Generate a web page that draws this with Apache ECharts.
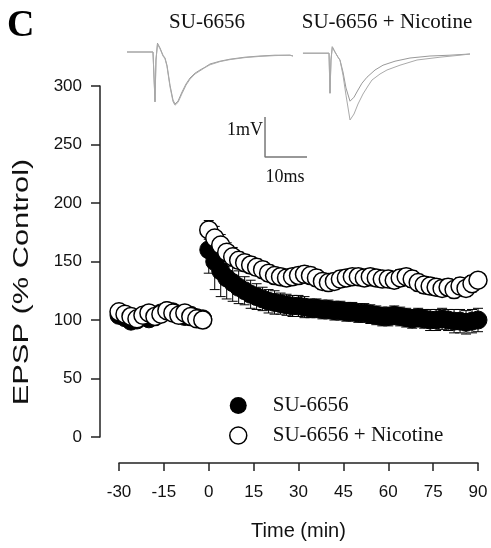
<!DOCTYPE html>
<html>
<head>
<meta charset="utf-8">
<script src="https://cdn.jsdelivr.net/npm/echarts@6/dist/echarts.min.js"></script>
<style>html,body{margin:0;padding:0;background:#fff}#c{width:491px;height:548px}</style>
</head>
<body>
<div id="c"></div>
<script>
// ---- main data (Time in min, EPSP in % control) ----
var timesBase = [-30,-28,-26,-24,-22,-20,-18,-16,-14,-12,-10,-8,-6,-4,-2];
var timesPost = [0,2,4,6,8,10,12,14,16,18,20,22,24,26,28,30,32,34,36,38,40,42,44,46,48,50,52,54,56,58,60,62,64,66,68,70,72,74,76,78,80,82,84,86,88,90];

var su6656Base = [104,102,99,100,103,101,104,106,108,107,105,103,104,102,101];
var su6656BaseErr = [5,5,5,5,5,5,5,5,5,5,5,5,5,5,5];
var su6656Post = [160,150,142,136,132,128,125,122,120,118,116,115,114,113,112,112,111,110,110,109,109,108,108,107,107,106,106,105,104,103,103,104,103,102,101,102,101,100,100,101,100,99,99,98,99,100];
var su6656PostErr = [20,24,22,18,16,14,12,12,11,10,10,10,9,9,9,9,9,8,8,8,8,8,8,8,8,8,8,8,8,8,8,8,8,8,8,8,8,9,9,9,9,10,10,10,10,10];

var nicBase = [107,105,103,101,104,106,103,105,108,106,104,106,103,101,100];
var nicBaseErr = [4,4,4,4,4,4,4,4,4,4,4,4,4,4,4];
var nicPost = [177,170,164,158,154,151,149,147,145,143,140,138,137,136,137,138,139,138,136,133,132,133,135,136,137,137,136,137,136,135,135,134,136,137,135,132,130,129,128,127,128,126,129,127,131,134];
var nicPostErr = [8,10,9,8,8,7,7,7,7,7,7,7,7,7,7,7,7,7,7,7,7,7,7,7,7,7,7,7,7,7,7,7,7,7,7,7,7,7,7,7,7,7,7,7,7,6];

var xTicks = [-30,-15,0,15,30,45,60,75,90];
var yTicks = [0,50,100,150,200,250,300];

// ---- example traces (ms, mV) ----
var traceLeftA = [[0,0],[6.19,0],[6.43,-0.03],[6.67,-1.25],[6.9,-0.2],[7.26,0.22],[7.86,0.1],[8.57,-0.08],[9.05,-0.15],[9.52,-0.33],[10.24,-0.83],[10.95,-1.2],[11.43,-1.3],[12.14,-1.23],[13.1,-1.0],[14.05,-0.8],[15.0,-0.65],[16.19,-0.53],[17.38,-0.45],[18.57,-0.38],[19.76,-0.3],[22.14,-0.23],[24.52,-0.18],[28.1,-0.13],[31.67,-0.1],[35.24,-0.08],[38.81,-0.08],[39.52,-0.1]];
var traceLeftB = [[0,0],[6.19,0],[6.43,-0.03],[6.67,-1.22],[6.9,-0.2],[7.26,0.2],[7.86,0.08],[8.57,-0.1],[9.05,-0.17],[9.52,-0.36],[10.24,-0.87],[10.95,-1.24],[11.43,-1.33],[12.14,-1.26],[13.1,-1.04],[14.05,-0.83],[15.0,-0.68],[16.19,-0.55],[17.38,-0.47],[18.57,-0.39],[19.76,-0.32],[22.14,-0.24],[24.52,-0.19],[28.1,-0.14],[31.67,-0.11],[35.24,-0.09],[38.81,-0.08],[39.52,-0.1]];
var traceRightA = [[41.9,-0.03],[48.1,-0.03],[48.33,-1.03],[48.57,-0.2],[48.88,0.13],[49.52,0],[50.24,-0.13],[50.71,-0.2],[51.43,-0.5],[52.14,-0.9],[53.1,-1.23],[54.05,-1.13],[55.0,-0.95],[55.95,-0.78],[57.14,-0.63],[59.05,-0.45],[60.95,-0.33],[63.81,-0.23],[67.38,-0.15],[72.14,-0.1],[76.9,-0.08],[81.67,-0.05]];
var traceRightB = [[41.9,-0.03],[48.1,-0.03],[48.33,-1.03],[48.57,-0.2],[48.88,0.13],[49.52,0],[50.24,-0.13],[50.71,-0.2],[51.43,-0.58],[52.14,-1.08],[53.1,-1.7],[54.05,-1.55],[55.0,-1.3],[56.19,-1.05],[57.38,-0.85],[58.33,-0.7],[60.24,-0.55],[61.9,-0.45],[65.0,-0.33],[69.05,-0.2],[74.52,-0.13],[79.29,-0.08],[81.67,-0.05]];
var scaleBar = [[32.86,-1.625],[32.86,-2.625],[42.86,-2.625]];

var SERIF = "'Liberation Serif','Times New Roman',serif";
var SANS = "'Liberation Sans',Arial,sans-serif";

function zip(t, v, e) {
  return t.map(function (x, i) { return e ? [x, v[i], e[i]] : [x, v[i]]; });
}
var blackPts = zip(timesBase, su6656Base).concat(zip(timesPost, su6656Post));
var whitePts = zip(timesBase, nicBase).concat(zip(timesPost, nicPost));
var blackErr = zip(timesBase, su6656Base, su6656BaseErr).concat(zip(timesPost, su6656Post, su6656PostErr));
var whiteErr = zip(timesBase, nicBase, nicBaseErr).concat(zip(timesPost, nicPost, nicPostErr));

function errRender(params, api) {
  var x = api.value(0), y = api.value(1), e = api.value(2);
  var top = api.coord([x, y + e]);
  var bot = api.coord([x, y - e]);
  var hw = 5;
  var st = { stroke: '#000', lineWidth: 1 };
  return {
    type: 'group',
    children: [
      { type: 'line', shape: { x1: top[0], y1: top[1], x2: bot[0], y2: bot[1] }, style: st },
      { type: 'line', shape: { x1: top[0] - hw, y1: top[1], x2: top[0] + hw, y2: top[1] }, style: st },
      { type: 'line', shape: { x1: bot[0] - hw, y1: bot[1], x2: bot[0] + hw, y2: bot[1] }, style: st }
    ]
  };
}

var chart = echarts.init(document.getElementById('c'), null, { renderer: 'canvas' });
chart.setOption({
  animation: false,
  backgroundColor: '#fff',
  grid: [
    { left: 119, right: 13, top: 86, bottom: 111 },
    { left: 127, top: 40, width: 344.4, height: 120 }
  ],
  xAxis: [
    {
      gridIndex: 0, type: 'value', min: -30, max: 90, interval: 15, offset: 26,
      axisLine: { onZero: false, lineStyle: { color: '#222', width: 1.5 } },
      axisTick: { length: 8, lineStyle: { color: '#222', width: 1.5 } },
      axisLabel: { margin: 21, fontFamily: SANS, fontSize: 17, color: '#111',
        formatter: function (v) { return xTicks.indexOf(v) >= 0 ? String(v) : ''; } },
      splitLine: { show: false },
      name: 'Time (min)', nameLocation: 'middle', nameGap: 58,
      nameTextStyle: { fontFamily: SANS, fontSize: 20, color: '#111' }
    },
    { gridIndex: 1, type: 'value', min: 0, max: 82, show: false }
  ],
  yAxis: [
    {
      gridIndex: 0, type: 'value', min: 0, max: 300, interval: 50, offset: 19,
      axisLine: { show: true, onZero: false, lineStyle: { color: '#222', width: 1.5 } },
      axisTick: { show: true, length: 9, lineStyle: { color: '#222', width: 1.5 } },
      axisLabel: { margin: 18, fontFamily: SANS, fontSize: 17, color: '#111',
        formatter: function (v) { return yTicks.indexOf(v) >= 0 ? String(v) : ''; } },
      splitLine: { show: false }
    },
    { gridIndex: 1, type: 'value', min: -2.7, max: 0.3, show: false }
  ],
  legend: {
    orient: 'vertical', left: 224, top: 390,
    itemWidth: 17, itemHeight: 17, itemGap: 9,
    textStyle: { fontFamily: SERIF, fontSize: 21, color: '#111', padding: [0, 0, 0, 21], lineHeight: 21 },
    data: [
      { name: 'SU-6656', icon: 'circle', itemStyle: { color: '#000', borderWidth: 0 } },
      { name: 'SU-6656 + Nicotine', icon: 'circle', itemStyle: { color: '#fff', borderColor: '#000', borderWidth: 1.5 } }
    ]
  },
  graphic: [
    { type: 'text', x: 7, y: 7, style: { text: 'C', font: "bold 38px " + SERIF, fill: '#000' } },
    { type: 'text', x: 207, y: 22, style: { text: 'SU-6656', font: "21px " + SERIF, fill: '#111', align: 'center', verticalAlign: 'middle', textAlign: 'center', textVerticalAlign: 'middle' } },
    { type: 'text', x: 387, y: 22, style: { text: 'SU-6656 + Nicotine', font: "21px " + SERIF, fill: '#111', align: 'center', verticalAlign: 'middle', textAlign: 'center', textVerticalAlign: 'middle' } },
    { type: 'text', x: 263, y: 130, style: { text: '1mV', font: "18px " + SERIF, fill: '#111', align: 'right', verticalAlign: 'middle', textAlign: 'right', textVerticalAlign: 'middle' } },
    { type: 'text', x: 285, y: 177, style: { text: '10ms', font: "18px " + SERIF, fill: '#111', align: 'center', verticalAlign: 'middle', textAlign: 'center', textVerticalAlign: 'middle' } },
    { type: 'text', x: 22, y: 282, rotation: Math.PI / 2, scaleX: 1.4, style: { text: 'EPSP (% Control)', font: "22px " + SANS, fill: '#111', align: 'center', verticalAlign: 'middle', textAlign: 'center', textVerticalAlign: 'middle' } }
  ],
  series: [
    { type: 'line', xAxisIndex: 1, yAxisIndex: 1, data: traceLeftA, showSymbol: false, lineStyle: { color: '#999', width: 1 }, silent: true },
    { type: 'line', xAxisIndex: 1, yAxisIndex: 1, data: traceLeftB, showSymbol: false, lineStyle: { color: '#aaa', width: 1 }, silent: true },
    { type: 'line', xAxisIndex: 1, yAxisIndex: 1, data: traceRightA, showSymbol: false, lineStyle: { color: '#999', width: 1 }, silent: true },
    { type: 'line', xAxisIndex: 1, yAxisIndex: 1, data: traceRightB, showSymbol: false, lineStyle: { color: '#aaa', width: 1 }, silent: true },
    { type: 'line', xAxisIndex: 1, yAxisIndex: 1, data: scaleBar, showSymbol: false, lineStyle: { color: '#777', width: 1.5 }, silent: true },
    { type: 'custom', name: 'errBlack', xAxisIndex: 0, yAxisIndex: 0, data: blackErr, renderItem: errRender, z: 2 },
    { type: 'scatter', name: 'SU-6656', xAxisIndex: 0, yAxisIndex: 0, data: blackPts, symbol: 'circle', symbolSize: 18,
      itemStyle: { color: '#000', borderColor: '#000', borderWidth: 1, opacity: 1 }, z: 3 },
    { type: 'custom', name: 'errWhite', xAxisIndex: 0, yAxisIndex: 0, data: whiteErr, renderItem: errRender, z: 4 },
    { type: 'scatter', name: 'SU-6656 + Nicotine', xAxisIndex: 0, yAxisIndex: 0, data: whitePts, symbol: 'circle', symbolSize: 18,
      itemStyle: { color: '#fff', borderColor: '#000', borderWidth: 1.5, opacity: 1 }, z: 5 }
  ]
});
</script>
</body>
</html>
